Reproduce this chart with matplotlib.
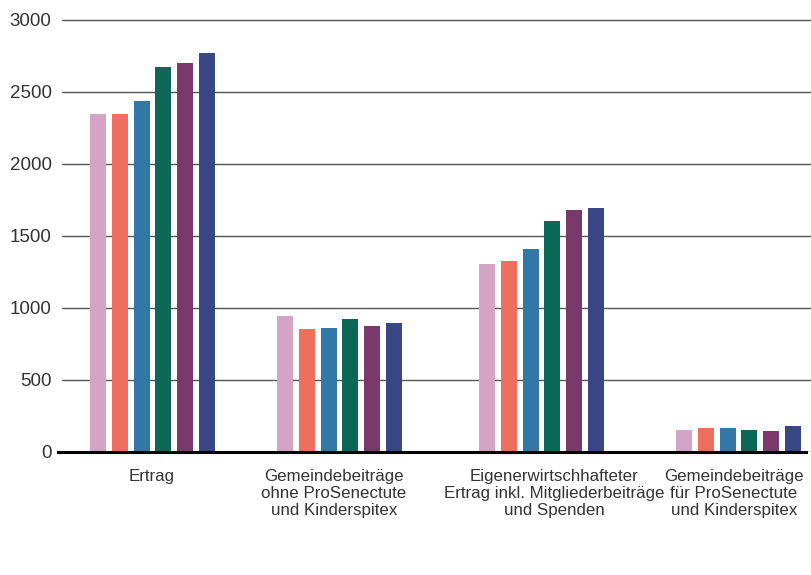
import numpy as np
import matplotlib
matplotlib.use("Agg")
import matplotlib.pyplot as plt

plt.rcParams['font.family'] = ['Liberation Sans', 'DejaVu Sans']

# Kategorien und Werte (6 Jahre je Kategorie)
kategorien = [
    "Ertrag",
    "Gemeindebeiträge\nohne ProSenectute\nund Kinderspitex",
    "Eigenerwirtschhafteter\nErtrag inkl. Mitgliederbeiträge\nund Spenden",
    "Gemeindebeiträge\nfür ProSenectute\nund Kinderspitex",
]
jahr1 = [2347, 944, 1306, 153]
jahr2 = [2347, 854, 1326, 167]
jahr3 = [2437, 861, 1410, 167]
jahr4 = [2674, 924, 1604, 153]
jahr5 = [2701, 875, 1681, 146]
jahr6 = [2771, 896, 1694, 183]
serien = [jahr1, jahr2, jahr3, jahr4, jahr5, jahr6]
y_ticks = [0, 500, 1000, 1500, 2000, 2500, 3000]

farben = ['#D4A4C6', '#EE6F5E', '#3278A6', '#0B6856', '#7A396B', '#394786']

# Layout in Pixeleinheiten der Achse
gruppen_x = np.array([152.5, 339.5, 541.5, 738.5])
label_x = [152, 334, 554, 734]
abstand = 21.8
breite = 16

fig = plt.figure(figsize=(8.12, 5.75), dpi=100)
ax = fig.add_axes([62 / 812, 123 / 575, 750 / 812, 3050 * 0.144 / 575])

for i, (werte, farbe) in enumerate(zip(serien, farben)):
    ax.bar(gruppen_x + (i - 2.5) * abstand, werte, width=breite,
           color=farbe, zorder=3, linewidth=0)

ax.set_xlim(62, 812)
ax.set_ylim(0, 3050)

ax.set_yticks(y_ticks)
ax.set_yticklabels([str(v) for v in y_ticks])
ax.yaxis.grid(True, color='#555555', linewidth=1.0, zorder=0)
ax.set_axisbelow(True)

ax.set_xticks(label_x)
ax.set_xticklabels(kategorien, multialignment='center', linespacing=1.2)

ax.tick_params(axis='y', length=0, pad=7.5, labelsize=13.5, labelcolor='#333333')
ax.tick_params(axis='x', length=0, pad=12, labelsize=12.2, labelcolor='#333333')

for s in ax.spines.values():
    s.set_visible(False)

# Nulllinie etwas breiter als die Achse
ax.axhline(0, xmin=-4 / 750, xmax=744 / 750, color='black', linewidth=2.2,
           zorder=4, clip_on=False)

fig.savefig('out.png', dpi=100)
